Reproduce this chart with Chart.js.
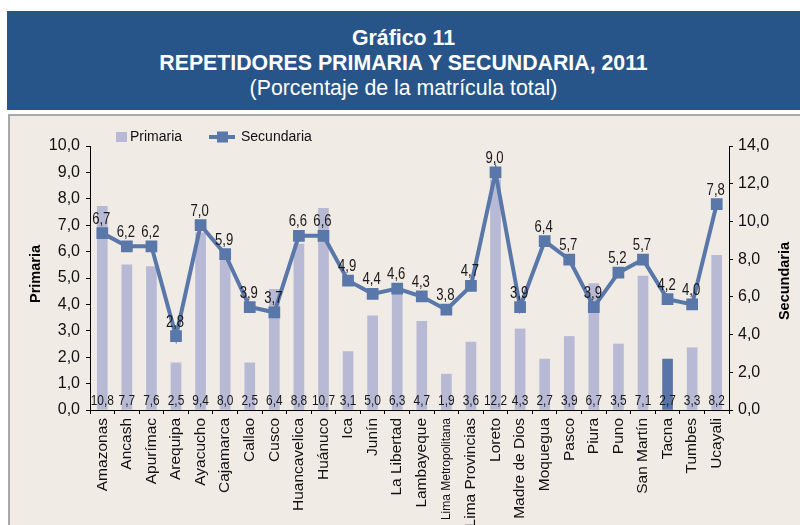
<!DOCTYPE html>
<html>
<head>
<meta charset="utf-8">
<script src="https://cdn.jsdelivr.net/npm/chart.js@4/dist/chart.umd.min.js"></script>
<style>
  html, body { margin: 0; padding: 0; background: #ffffff; }
  body { width: 800px; height: 525px; position: relative; overflow: hidden; font-family: "Liberation Sans", Arial, sans-serif; }
  #banner { position: absolute; left: 7px; top: 11px; width: 793px; height: 99px; background: #27558A; color: #fff; text-align: center; }
  #banner .l1 { position: absolute; left: 0; right: 0; top: 16px; font-weight: bold; font-size: 21.3px; line-height: 22px; }
  #banner .l2 { position: absolute; left: 0; right: 0; top: 41px; font-weight: bold; font-size: 21.3px; line-height: 22px; }
  #banner .l3 { position: absolute; left: 0; right: 0; top: 66px; font-size: 21.3px; line-height: 22px; }
  #panel { position: absolute; left: 8px; top: 114px; width: 792px; height: 411px; background: #F0EBE5; border-left: 2px solid #A8A8A8; border-top: 2px solid #A8A8A8; box-sizing: border-box; }
  #wrap { position: absolute; left: 0; top: 0; width: 800px; height: 525px; }
</style>
</head>
<body>
<div id="banner">
  <div class="l1">Gráfico 11</div>
  <div class="l2">REPETIDORES PRIMARIA Y SECUNDARIA, 2011</div>
  <div class="l3">(Porcentaje de la matrícula total)</div>
</div>
<div id="panel"></div>
<div id="wrap"><canvas id="c" width="800" height="525"></canvas></div>
<script>
const categories = ['Amazonas','Ancash','Apurímac','Arequipa','Ayacucho','Cajamarca','Callao','Cusco','Huancavelica','Huánuco','Ica','Junín','La Libertad','Lambayeque','Lima Metropolitana','Lima Provincias','Loreto','Madre de Dios','Moquegua','Pasco','Piura','Puno','San Martín','Tacna','Tumbes','Ucayali'];
const primariaValues = [10.8,7.7,7.6,2.5,9.4,8.0,2.5,6.4,8.8,10.7,3.1,5.0,6.3,4.7,1.9,3.6,12.2,4.3,2.7,3.9,6.7,3.5,7.1,2.7,3.3,8.2];
const secundariaValues = [6.7,6.2,6.2,2.8,7.0,5.9,3.9,3.7,6.6,6.6,4.9,4.4,4.6,4.3,3.8,4.7,9.0,3.9,6.4,5.7,3.9,5.2,5.7,4.2,4.0,7.8];
const leftTicks = [0,1,2,3,4,5,6,7,8,9,10];
const rightTicks = [0,2,4,6,8,10,12,14];
const highlightCategory = 'Tacna';
const seriesNames = ['Primaria','Secundaria'];
const axisTitles = ['Primaria','Secundaria'];

const BAR_COLOR = '#B8B9D5';
const HIGHLIGHT_COLOR = '#5874A8';
const LINE_COLOR = '#5A77AA';
const REG = '"Liberation Sans", Arial, sans-serif';

const fmt = v => Number(v).toFixed(1).replace('.', ',');

// draw condensed text by squeezing horizontally
function narrowText(ctx, text, x, y, size, squeeze) {
  ctx.save();
  ctx.font = size + 'px ' + REG;
  ctx.textAlign = 'center';
  ctx.textBaseline = 'alphabetic';
  ctx.translate(x, y);
  ctx.scale(squeeze, 1);
  ctx.fillText(text, 0, 0);
  ctx.restore();
}

const overlay = {
  id: 'overlay',
  afterDatasetsDraw(chart) {
    const ctx = chart.ctx;
    ctx.save();
    ctx.fillStyle = '#1a1a1a';
    const barMeta = chart.getDatasetMeta(1);
    barMeta.data.forEach((el, i) => {
      narrowText(ctx, fmt(primariaValues[i]), el.x, chart.chartArea.bottom - 5, 14.5, 0.82);
    });
    const lineMeta = chart.getDatasetMeta(0);
    lineMeta.data.forEach((el, i) => {
      narrowText(ctx, fmt(secundariaValues[i]), el.x - 1, el.y - 9.5, 16, 0.82);
    });
    ctx.restore();
  },
  afterDraw(chart) {
    const ctx = chart.ctx;
    ctx.save();
    ctx.fillStyle = '#000';
    ctx.font = 'bold 14.5px ' + REG;
    ctx.textAlign = 'center';
    ctx.textBaseline = 'middle';
    ctx.translate(36, 274);
    ctx.rotate(-Math.PI / 2);
    ctx.fillText(axisTitles[0], 0, 0);
    ctx.restore();
    ctx.save();
    ctx.fillStyle = '#000';
    ctx.font = 'bold 14.5px ' + REG;
    ctx.textAlign = 'center';
    ctx.textBaseline = 'middle';
    ctx.translate(785, 281);
    ctx.rotate(-Math.PI / 2);
    ctx.fillText(axisTitles[1], 0, 0);
    ctx.restore();
    // legend
    ctx.save();
    ctx.fillStyle = BAR_COLOR;
    ctx.fillRect(116, 132, 11, 10);
    ctx.fillStyle = '#111';
    ctx.font = '14px ' + REG;
    ctx.textAlign = 'left';
    ctx.textBaseline = 'middle';
    ctx.fillText(seriesNames[0], 130, 137.5);
    ctx.strokeStyle = LINE_COLOR;
    ctx.lineWidth = 4;
    ctx.beginPath();
    ctx.moveTo(209, 137);
    ctx.lineTo(235, 137);
    ctx.stroke();
    ctx.fillStyle = LINE_COLOR;
    ctx.fillRect(217, 131.5, 11, 11);
    ctx.fillStyle = '#111';
    ctx.fillText(seriesNames[1], 241, 137.5);
    ctx.restore();
  }
};

new Chart(document.getElementById('c'), {
  data: {
    labels: categories,
    datasets: [
      {
        type: 'line',
        label: seriesNames[1],
        data: secundariaValues,
        yAxisID: 'y',
        borderColor: LINE_COLOR,
        backgroundColor: LINE_COLOR,
        borderWidth: 4,
        pointStyle: 'rect',
        pointRadius: 8.3,
        pointBorderWidth: 0,
        pointBackgroundColor: LINE_COLOR,
        tension: 0,
        order: 1
      },
      {
        type: 'bar',
        label: seriesNames[0],
        data: primariaValues,
        yAxisID: 'y2',
        backgroundColor: categories.map(c => c === highlightCategory ? HIGHLIGHT_COLOR : BAR_COLOR),
        barThickness: 10,
        order: 2
      }
    ]
  },
  options: {
    responsive: false,
    animation: false,
    events: [],
    layout: { padding: { top: 146, left: 0, right: 0, bottom: 0 } },
    plugins: { legend: { display: false }, tooltip: { enabled: false }, title: { display: false } },
    scales: {
      x: {
        type: 'category',
        offset: true,
        afterFit(s) { s.height = 115; },
        grid: { offset: true, drawOnChartArea: false, drawTicks: true, tickLength: 4, color: '#000', lineWidth: 1 },
        border: { color: '#000', width: 1 },
        ticks: {
          autoSkip: false,
          maxRotation: 90,
          minRotation: 90,
          padding: 4,
          color: '#111',
          font: ctx => (categories[ctx.index] === 'Lima Metropolitana'
            ? { size: 12, family: REG }
            : { size: 15.5, family: REG })
        }
      },
      y: {
        position: 'left',
        min: 0, max: 10,
        afterFit(s) { s.width = 90; },
        afterBuildTicks(s) { s.ticks = leftTicks.map(v => ({ value: v })); },
        grid: { drawOnChartArea: false, drawTicks: true, tickLength: 4, color: '#000' },
        border: { color: '#000', width: 1 },
        ticks: { padding: 6, color: '#111', font: { size: 16, family: REG }, callback: v => fmt(v) }
      },
      y2: {
        position: 'right',
        min: 0, max: 14,
        afterFit(s) { s.width = 71; },
        afterBuildTicks(s) { s.ticks = rightTicks.map(v => ({ value: v })); },
        grid: { drawOnChartArea: false, drawTicks: true, tickLength: 4, color: '#000' },
        border: { color: '#000', width: 1 },
        ticks: { padding: 5, color: '#111', font: { size: 16, family: REG }, callback: v => fmt(v) }
      }
    }
  },
  plugins: [overlay]
});
</script>
</body>
</html>
